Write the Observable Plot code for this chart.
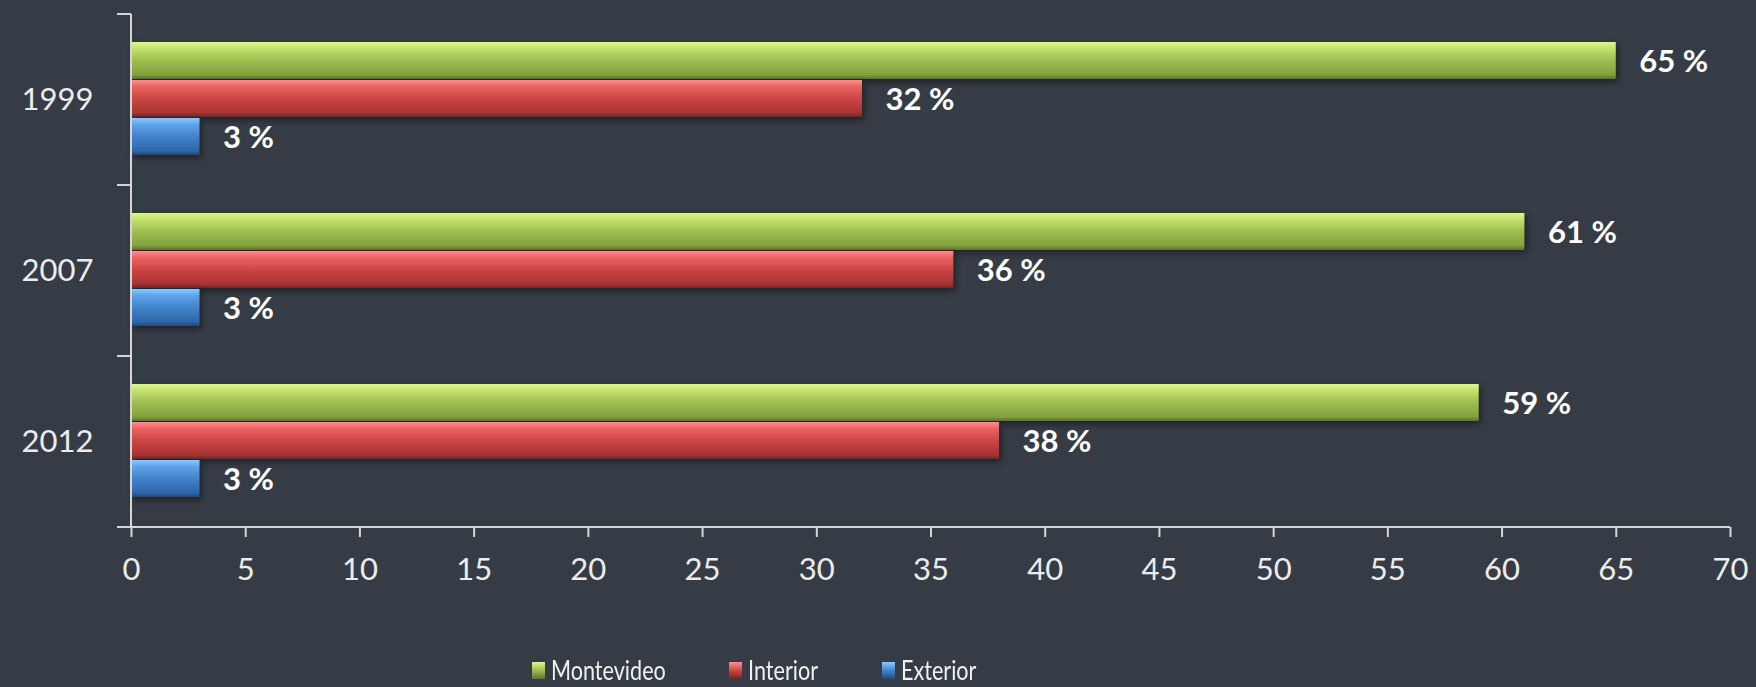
<!DOCTYPE html>
<html><head><meta charset="utf-8">
<script src="https://cdn.jsdelivr.net/npm/d3@7"></script>
<script src="https://cdn.jsdelivr.net/npm/@observablehq/plot@0.6"></script>
<style>
html,body{margin:0;padding:0;background:#363c45;}
#wrap{position:relative;width:1756px;height:687px;overflow:hidden;background:#363c45;}
#legend{position:absolute;left:532px;top:657px;height:26px;display:flex;align-items:center;font-family:Lato,"Open Sans",sans-serif;font-size:27px;line-height:26px;color:#f0f0f0;}
#legend .item{display:flex;align-items:center;height:26px;}
#legend .sw{display:inline-block;width:13px;height:17px;margin-right:6px;flex:none;}
#legend .tx{display:inline-block;line-height:26px;height:26px;transform:scaleX(0.8);transform-origin:0 50%;white-space:nowrap;}
</style></head>
<body>
<svg width="0" height="0" style="position:absolute">
  <defs>
    <linearGradient id="g0" x1="0" y1="0" x2="0" y2="1">
      <stop offset="0" stop-color="#dcf78e"/><stop offset="0.18" stop-color="#c3e16c"/>
      <stop offset="0.5" stop-color="#9ebe51"/><stop offset="0.88" stop-color="#84a23b"/><stop offset="1" stop-color="#5c7527"/>
    </linearGradient>
    <linearGradient id="g1" x1="0" y1="0" x2="0" y2="1">
      <stop offset="0" stop-color="#ff8f8f"/><stop offset="0.18" stop-color="#ea6262"/>
      <stop offset="0.5" stop-color="#cd4545"/><stop offset="0.88" stop-color="#a93434"/><stop offset="1" stop-color="#7a2222"/>
    </linearGradient>
    <linearGradient id="g2" x1="0" y1="0" x2="0" y2="1">
      <stop offset="0" stop-color="#8ccbff"/><stop offset="0.18" stop-color="#5fa3e7"/>
      <stop offset="0.5" stop-color="#4283cd"/><stop offset="0.88" stop-color="#2f67a9"/><stop offset="1" stop-color="#1f4a80"/>
    </linearGradient>
  </defs>
</svg>
<div id="wrap"><div id="chart"></div><div id="legend"></div></div>
<script>
const years = ["1999", "2007", "2012"];
const series = ["Montevideo", "Interior", "Exterior"];
const montevideo = [65, 61, 59];
const interior = [32, 36, 38];
const exterior = [3, 3, 3];
const xTicks = [0, 5, 10, 15, 20, 25, 30, 35, 40, 45, 50, 55, 60, 65, 70];

const seriesValues = [montevideo, interior, exterior];
const rows = [];
series.forEach((s, i) => years.forEach((y, j) => rows.push({series: s, year: y, value: seriesValues[i][j]})));

const fills = ["url(#g0)", "url(#g1)", "url(#g2)"];
const swatchCss = [
  "linear-gradient(#dcf78e,#9ebe51 50%,#5c7527)",
  "linear-gradient(#ff8f8f,#cd4545 50%,#7a2222)",
  "linear-gradient(#8ccbff,#4283cd 50%,#1f4a80)"
];
// vertical placement of each series bar inside a year band (px insets)
const insets = [[28, 106], [66, 68], [104, 30]];
const labelDy = [-38, 0, 38];
const axisColor = "#d6d6d6";

const axisLines = (index, scales) => {
  const {x, y} = scales;
  const bw = y(years[1]) - y(years[0]);
  const x0 = x(0), x1 = x(xTicks[xTicks.length - 1]);
  const top = y(years[0]), bottom = y(years[years.length - 1]) + bw;
  const g = d3.create("svg:g").attr("stroke", axisColor).attr("stroke-width", 2).attr("fill", "none");
  g.append("line").attr("x1", x0).attr("x2", x0).attr("y1", top).attr("y2", bottom);
  g.append("line").attr("x1", x0 - 14).attr("x2", x1).attr("y1", bottom).attr("y2", bottom);
  years.forEach(yr => g.append("line").attr("x1", x0 - 14).attr("x2", x0).attr("y1", y(yr)).attr("y2", y(yr)));
  return g.node();
};

const marks = [];
series.forEach((s, i) => {
  marks.push(Plot.barX(rows.filter(d => d.series === s), {
    x: "value", y: "year", fill: fills[i],
    insetTop: insets[i][0], insetBottom: insets[i][1]
  }));
});
series.forEach((s, i) => {
  marks.push(Plot.text(rows.filter(d => d.series === s), {
    x: "value", y: "year", text: d => `${d.value} %`, dx: 23, dy: labelDy[i],
    textAnchor: "start", fill: "#ffffff", fontWeight: "bold", fontSize: 31
  }));
});
marks.push(Plot.axisY({tickSize: 0, tickPadding: 38, fontSize: 31, fill: "#ececec", label: null}));
marks.push(Plot.axisX({ticks: xTicks, tickSize: 10, tickPadding: 20, fontSize: 31, fill: "#ececec", stroke: axisColor, strokeWidth: 2, tickFormat: d => String(d), label: null}));
marks.push(axisLines);

const chart = Plot.plot({
  width: 1756,
  height: 640,
  marginTop: 14,
  marginBottom: 113,
  marginLeft: 131,
  marginRight: 26,
  style: {background: "transparent", color: "#ececec", fontFamily: "Lato, 'Open Sans', sans-serif"},
  x: {domain: [0, 70], label: null},
  y: {domain: years, padding: 0, label: null},
  marks
});
document.getElementById("chart").appendChild(chart);
d3.select(chart).selectAll("g[aria-label='bar']").style("filter", "drop-shadow(2px 3px 3px rgba(0,0,0,0.45))");

const itemWidths = [197, 153, 120];
const legend = d3.select("#legend");
series.forEach((s, i) => {
  const it = legend.append("div").attr("class", "item").style("width", itemWidths[i] + "px");
  it.append("span").attr("class", "sw").style("background", swatchCss[i]);
  it.append("span").attr("class", "tx").text(s);
});
</script>
</body></html>
